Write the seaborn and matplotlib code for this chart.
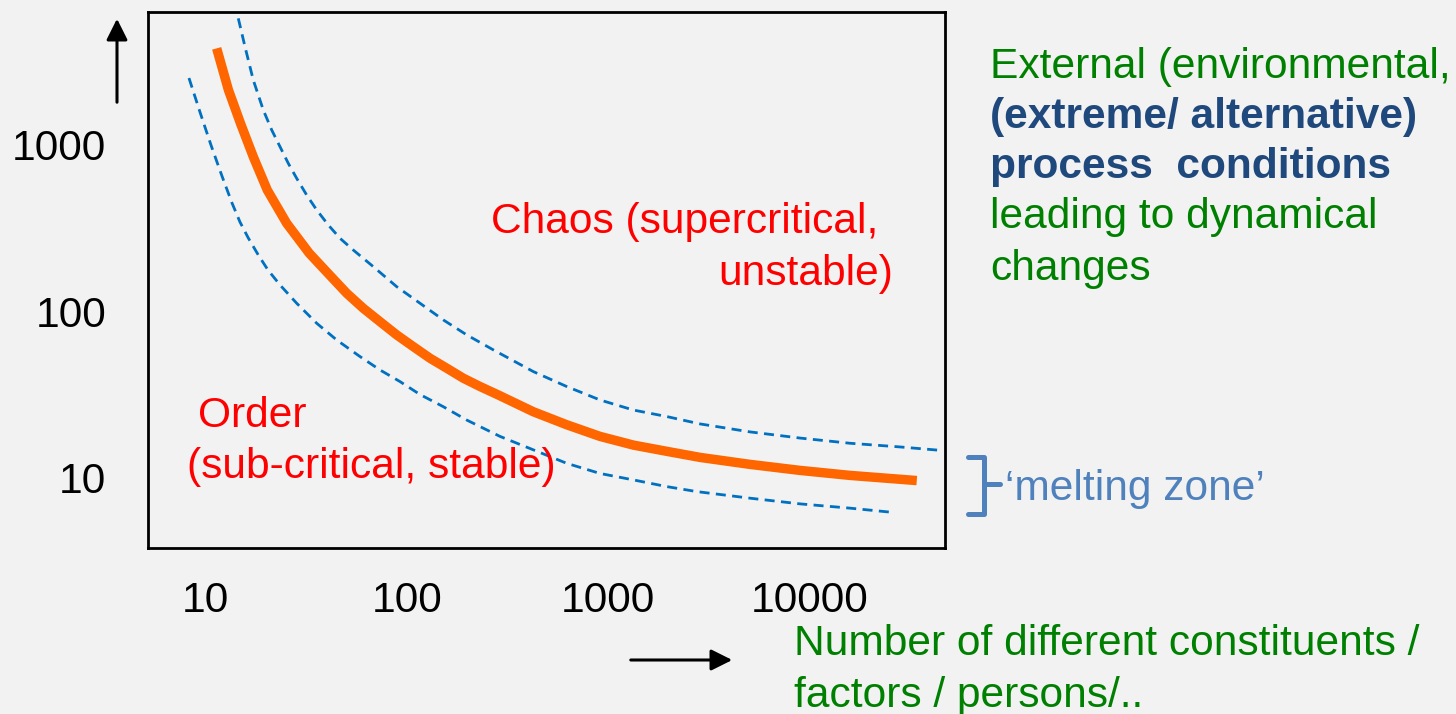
import numpy as np
import pandas as pd
import matplotlib
matplotlib.use("Agg")
import matplotlib.pyplot as plt
import matplotlib.lines as mlines
import matplotlib.patches as mpatches
import seaborn as sns

# ---- data ----
center_x = [11.38, 13.02, 14.94, 17.29, 20.29, 25.33, 32.8, 41.56, 50.3, 60.8, 73.6, 89.1,
            107.7, 130.4, 157.8, 190.8, 231, 284.7, 424.8, 622, 910.7, 1332, 1952, 2856,
            5059, 8961, 15870, 34030]
center_y = [3798, 2134, 1346, 848, 535, 337.7, 223, 164.1, 128.3, 104.2, 86.6, 72.1,
            61.3, 52.2, 45.5, 39.6, 35.3, 31.4, 24.9, 20.8, 17.7, 15.7, 14.4, 13.24,
            12.02, 11.06, 10.32, 9.61]

upper_x = [14.57, 15.73, 17.29, 19.39, 21.35, 23.47, 25.8, 28.4, 31.84, 35.7, 40.75, 46.6,
           54.3, 68.2, 89.1, 116.3, 151.8, 198.4, 268.9, 424.8, 622, 910.7, 1332, 1952,
           2856, 5059, 8961, 15870, 28110, 44410]
upper_y = [5752, 3884, 2451, 1618, 1227, 974, 774, 629, 499, 406, 330, 274.4,
           233, 185.3, 140.5, 111.7, 88.7, 72.1, 58.6, 43.4, 35.3, 29.3, 25.5, 23.3,
           21.04, 18.84, 17.3, 16.1, 15.3, 14.6]

lower_x = [8.29, 9.40, 10.66, 12.09, 13.56, 14.85, 16.33, 18.31, 20.45, 23.47, 28.4, 35.7,
           44.87, 58.6, 73.6, 92.5, 116.3, 151.8, 198.4, 290.3, 424.8, 622, 910.7, 1332,
           1952, 2751, 5059, 8961, 15870, 25070]
lower_y = [2519, 1574, 997, 649, 447, 343.8, 275.6, 217.8, 177, 143.9, 111.7, 84.7,
           67.2, 53.4, 44.4, 37.8, 31.6, 26.7, 22.2, 17.7, 14.7, 12.2, 10.6, 9.70,
           8.84, 8.25, 7.53, 6.96, 6.56, 6.21]

x_ticks = [10, 100, 1000, 10000]
x_tick_labels = ["10", "100", "1000", "10000"]
y_ticks = [10, 100, 1000]
y_tick_labels = ["10", "100", "1000"]

W, H = 1456, 714
BG = "#f2f2f2"

sns.set_theme(style="white")
plt.rcParams["font.family"] = ["Liberation Sans", "DejaVu Sans"]

fig = plt.figure(figsize=(W / 100, H / 100), dpi=100, facecolor=BG)
ax = fig.add_axes([148 / W, 1 - 548 / H, (945 - 148) / W, (548 - 12) / H])
ax.set_facecolor(BG)

df_c = pd.DataFrame({"x": center_x, "y": center_y})
df_u = pd.DataFrame({"x": upper_x, "y": upper_y})
df_l = pd.DataFrame({"x": lower_x, "y": lower_y})

blue = "#0070c0"
for d in (df_u, df_l):
    sns.lineplot(data=d, x="x", y="y", ax=ax, color=blue, lw=2.0, estimator=None, sort=False,
                 linestyle=(0, (3.6, 2.3)))
sns.lineplot(data=df_c, x="x", y="y", ax=ax, color="#ff6600", lw=6.8, estimator=None, sort=False,
             solid_capstyle="butt", solid_joinstyle="round")

ax.set_xscale("log")
ax.set_yscale("log")
ax.set_xlim(5.19, 46990)
ax.set_ylim(3.78, 6281)
ax.set_xticks(x_ticks)
ax.set_xticklabels(x_tick_labels)
ax.set_yticks(y_ticks)
ax.set_yticklabels(y_tick_labels)
ax.minorticks_off()
ax.tick_params(axis="both", length=0, labelsize=30.6, colors="black")
ax.tick_params(axis="x", pad=24)
ax.tick_params(axis="y", pad=30)
ax.set_xlabel("")
ax.set_ylabel("")
ax.grid(False)
for s in ax.spines.values():
    s.set_visible(True)
    s.set_color("black")
    s.set_linewidth(2)


def fx(px):
    return px / W


def fy(py):
    return 1 - py / H


FS = 30.6
red = "#ff0000"
green = "#008000"
navy = "#1f497d"
steel = "#4f81bd"

fig.text(fx(491), fy(233), "Chaos (supercritical,", color=red, fontsize=FS, va="baseline", ha="left")
fig.text(fx(718), fy(285), "unstable)", color=red, fontsize=FS, va="baseline", ha="left")
fig.text(fx(198), fy(427), "Order", color=red, fontsize=FS, va="baseline", ha="left")
fig.text(fx(187), fy(478), "(sub-critical, stable)", color=red, fontsize=FS, va="baseline", ha="left")

fig.text(fx(990), fy(78), "External (environmental,", color=green, fontsize=FS, va="baseline")
fig.text(fx(990), fy(128), "(extreme/ alternative)", color=navy, fontsize=FS, fontweight="bold", va="baseline")
fig.text(fx(990), fy(178), "process  conditions", color=navy, fontsize=FS, fontweight="bold", va="baseline")
fig.text(fx(990), fy(228), "leading to dynamical", color=green, fontsize=FS, va="baseline")
fig.text(fx(990), fy(280), "changes", color=green, fontsize=FS, va="baseline")

fig.text(fx(1005), fy(500), "\u2018melting zone\u2019", color=steel, fontsize=FS, va="baseline")

fig.text(fx(794), fy(655), "Number of different constituents /", color=green, fontsize=FS, va="baseline")
fig.text(fx(794), fy(707), "factors / persons/..", color=green, fontsize=FS, va="baseline")

# bracket
bx = [fx(968), fx(984), fx(984), fx(968)]
by = [fy(457), fy(457), fy(514), fy(514)]
fig.add_artist(mlines.Line2D(bx, by, color=steel, lw=3.6, solid_joinstyle="round",
                             solid_capstyle="round", transform=fig.transFigure))
fig.add_artist(mlines.Line2D([fx(984), fx(1000)], [fy(484), fy(484)], color=steel, lw=3.6,
                             solid_capstyle="round", transform=fig.transFigure))

# axis direction arrows
fig.add_artist(mpatches.FancyArrowPatch(
    (fx(117), fy(105)), (fx(117), fy(16)), transform=fig.transFigure,
    arrowstyle="-|>", mutation_scale=32, lw=2.2, color="black"))
fig.add_artist(mpatches.FancyArrowPatch(
    (fx(628), fy(660)), (fx(735), fy(660)), transform=fig.transFigure,
    arrowstyle="-|>", mutation_scale=32, lw=2.2, color="black"))

fig.savefig("out.png", dpi=100, facecolor=BG)
